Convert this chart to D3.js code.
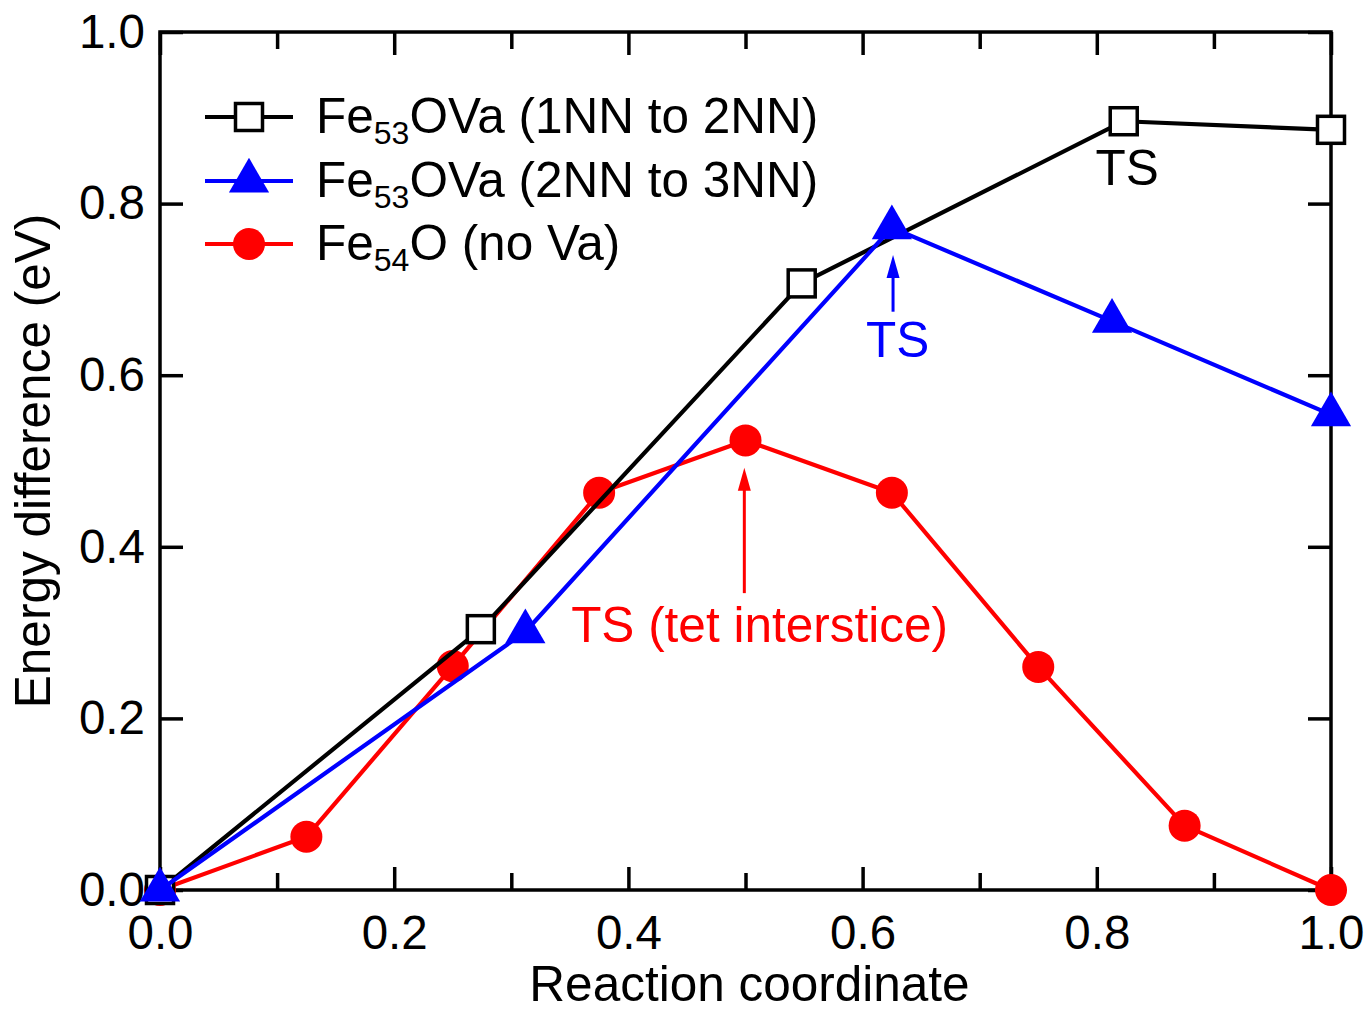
<!DOCTYPE html>
<html>
<head>
<meta charset="utf-8">
<script src="https://cdn.jsdelivr.net/npm/d3@7"></script>
<style>
  html, body { margin: 0; padding: 0; background: #fff; }
  svg { display: block; }
  text { font-family: "Liberation Sans", Arial, sans-serif; }
</style>
</head>
<body>
<svg id="chart" width="1364" height="1010"></svg>
<script>
// ---- data ----
const xLabel = "Reaction coordinate";
const yLabel = "Energy difference (eV)";
const xMajorTicks = [0, 0.2, 0.4, 0.6, 0.8, 1.0];
const xMinorTicks = [0.1, 0.3, 0.5, 0.7, 0.9];
const yMajorTicks = [0, 0.2, 0.4, 0.6, 0.8, 1.0];

const x1NN = [0, 0.274, 0.548, 0.823, 1.0];
const e1NN = [0, 0.304, 0.707, 0.896, 0.886];
const x2NN = [0, 0.312, 0.625, 0.813, 1.0];
const e2NN = [0, 0.301, 0.772, 0.663, 0.554];
const xNoVa = [0, 0.125, 0.25, 0.375, 0.5, 0.625, 0.75, 0.875, 1.0];
const eNoVa = [0, 0.062, 0.261, 0.463, 0.524, 0.463, 0.260, 0.075, 0.0];

const legendMain = ["Fe", "Fe", "Fe"];
const legendSub = ["53", "53", "54"];
const legendRest = ["OVa (1NN to 2NN)", "OVa (2NN to 3NN)", "O (no Va)"];

// ---- layout ----
const svg = d3.select("#chart");
const L = 160, R = 1331, T = 32, B = 890;
const x = d3.scaleLinear().domain([0, 1]).range([L, R]);
const y = d3.scaleLinear().domain([0, 1]).range([B, T]);

const AX = 3.5;
const majorLen = 23, minorLen = 17;
const FS = 49.5;

function styleAxis(g, fs) {
  g.select(".domain").remove();
  g.selectAll(".tick line").attr("stroke", "#000").attr("stroke-width", AX);
  g.selectAll(".tick text").attr("fill", "#000").style("font-size", fs + "px")
    .style("font-family", "'Liberation Sans', Arial, sans-serif");
}
const fmt = d3.format(".1f");
svg.append("g").attr("transform", `translate(0,${B})`)
  .call(d3.axisBottom(x).tickValues(xMajorTicks).tickFormat(fmt).tickSize(-majorLen).tickPadding(25))
  .call(g => styleAxis(g, 47.5));
svg.append("g").attr("transform", `translate(0,${B})`)
  .call(d3.axisBottom(x).tickValues(xMinorTicks).tickFormat("").tickSize(-minorLen))
  .call(g => styleAxis(g, 47.5));
svg.append("g").attr("transform", `translate(0,${T})`)
  .call(d3.axisTop(x).tickValues(xMajorTicks).tickFormat("").tickSize(-majorLen))
  .call(g => styleAxis(g, 47.5));
svg.append("g").attr("transform", `translate(0,${T})`)
  .call(d3.axisTop(x).tickValues(xMinorTicks).tickFormat("").tickSize(-minorLen))
  .call(g => styleAxis(g, 47.5));
svg.append("g").attr("transform", `translate(${L},0)`)
  .call(d3.axisLeft(y).tickValues(yMajorTicks).tickFormat(fmt).tickSize(-majorLen).tickPadding(15))
  .call(g => styleAxis(g, 47.5));
svg.append("g").attr("transform", `translate(${R},0)`)
  .call(d3.axisRight(y).tickValues(yMajorTicks).tickFormat("").tickSize(-majorLen))
  .call(g => styleAxis(g, 47.5));

// frame
svg.append("rect").attr("x", L).attr("y", T).attr("width", R - L).attr("height", B - T)
  .attr("fill", "none").attr("stroke", "#000").attr("stroke-width", AX);

// axis titles
svg.append("text").attr("x", (L + R) / 2 + 4).attr("y", 1001).attr("text-anchor", "middle")
  .style("font-size", FS + "px").attr("fill", "#000").text(xLabel);
svg.append("text").attr("transform", `translate(50,${(T + B) / 2}) rotate(-90)`)
  .attr("text-anchor", "middle").style("font-size", FS + "px").attr("fill", "#000").text(yLabel);

// series
const line = d3.line().x(d => x(d[0])).y(d => y(d[1]));
const ptsNoVa = xNoVa.map((v, i) => [v, eNoVa[i]]);
const pts1NN = x1NN.map((v, i) => [v, e1NN[i]]);
const pts2NN = x2NN.map((v, i) => [v, e2NN[i]]);

const LW = 4.2;
const SQ = 27;
const triPath = d3.symbol(d3.symbolTriangle, 700)();

// red (no Va)
svg.append("path").datum(ptsNoVa).attr("d", line).attr("fill", "none")
  .attr("stroke", "#ff0000").attr("stroke-width", LW).attr("stroke-linejoin", "round");
svg.selectAll(".c").data(ptsNoVa).enter().append("circle")
  .attr("cx", d => x(d[0])).attr("cy", d => y(d[1])).attr("r", 16).attr("fill", "#ff0000");

// black (1NN to 2NN)
svg.append("path").datum(pts1NN).attr("d", line).attr("fill", "none")
  .attr("stroke", "#000").attr("stroke-width", LW).attr("stroke-linejoin", "round");
svg.selectAll(".s").data(pts1NN).enter().append("rect")
  .attr("x", d => x(d[0]) - SQ / 2).attr("y", d => y(d[1]) - SQ / 2)
  .attr("width", SQ).attr("height", SQ).attr("fill", "#fff").attr("stroke", "#000").attr("stroke-width", 3.5);

// blue (2NN to 3NN)
svg.append("path").datum(pts2NN).attr("d", line).attr("fill", "none")
  .attr("stroke", "#0000ff").attr("stroke-width", LW).attr("stroke-linejoin", "round");
svg.selectAll(".t").data(pts2NN).enter().append("path")
  .attr("d", triPath).attr("transform", d => `translate(${x(d[0])},${y(d[1])})`).attr("fill", "#0000ff");

// annotations
function arrow(xv, y0, y1, color) {
  const px = x(xv), pTail = y(y0), pTip = y(y1);
  svg.append("line").attr("x1", px).attr("x2", px).attr("y1", pTail).attr("y2", pTip + 18)
    .attr("stroke", color).attr("stroke-width", 3);
  svg.append("path").attr("d", `M${px},${pTip} L${px - 6.5},${pTip + 23} L${px + 6.5},${pTip + 23} Z`).attr("fill", color);
}
arrow(0.626, 0.674, 0.740, "#0000ff");
arrow(0.499, 0.346, 0.492, "#ff0000");

svg.append("text").attr("x", x(0.826)).attr("y", y(0.822)).attr("text-anchor", "middle")
  .style("font-size", FS + "px").attr("fill", "#000").text("TS");
svg.append("text").attr("x", x(0.630)).attr("y", y(0.621)).attr("text-anchor", "middle")
  .style("font-size", FS + "px").attr("fill", "#0000ff").text("TS");
svg.append("text").attr("x", x(0.512)).attr("y", y(0.289)).attr("text-anchor", "middle")
  .style("font-size", FS + "px").attr("fill", "#ff0000").text("TS (tet interstice)");

// legend
const legColors = ["#000", "#0000ff", "#ff0000"];
const legY = [117, 181, 244];
legY.forEach((cy, i) => {
  svg.append("line").attr("x1", 205).attr("x2", 293).attr("y1", cy).attr("y2", cy)
    .attr("stroke", legColors[i]).attr("stroke-width", LW);
  if (i === 0) {
    svg.append("rect").attr("x", 249 - SQ / 2).attr("y", cy - SQ / 2).attr("width", SQ).attr("height", SQ)
      .attr("fill", "#fff").attr("stroke", "#000").attr("stroke-width", 3.5);
  } else if (i === 1) {
    svg.append("path").attr("d", triPath).attr("transform", `translate(249,${cy})`).attr("fill", "#0000ff");
  } else {
    svg.append("circle").attr("cx", 249).attr("cy", cy).attr("r", 16).attr("fill", "#ff0000");
  }
  const t = svg.append("text").attr("x", 316).attr("y", cy + 16).style("font-size", FS + "px").attr("fill", "#000");
  t.append("tspan").text(legendMain[i]);
  t.append("tspan").attr("dy", 11).style("font-size", "32px").text(legendSub[i]);
  t.append("tspan").attr("dy", -11).text(legendRest[i]);
});
</script>
</body>
</html>
